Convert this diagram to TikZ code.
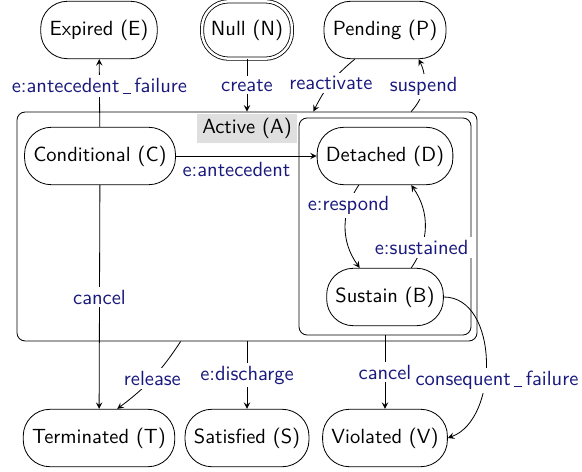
\documentclass[tikz,border=0pt]{standalone}
\definecolor{evtblue}{RGB}{25,25,125}
\newcommand\usc{\kern.18em\rule[-.5pt]{.37em}{.45pt}\kern.18em}
\tikzset{
  state/.style={draw, rectangle, rounded corners=13pt, minimum height=28pt, inner xsep=4.3pt},
  evt/.style={fill=white, text=evtblue, inner sep=1.5pt},
}
\begin{document}
\begin{tikzpicture}[x=0.4878pt, y=-0.4878pt, font=\sffamily, >=stealth]
  \useasboundingbox (0,0) rectangle (582,471);
  \node[draw, rounded corners=4pt, minimum width=224.4pt, minimum height=111.7pt] (A) at (247,226.5) {};
  \node[draw, rounded corners=4pt, minimum width=83.9pt, minimum height=105.9pt] (sub) at (385,226.5) {};
  \node[fill=gray!25, inner sep=2pt, minimum width=48.3pt] (Alabel) at (247,128.5) {Active (A)};

  \node[state] (E) at (99,30) {Expired (E)};
  \node[state, double, double distance=1.2pt] (N) at (247,30) {Null (N)};
  \node[state] (P) at (385,30) {Pending (P)};
  \node[state] (C) at (100,156) {Conditional (C)};
  \node[state] (D) at (385,156) {Detached (D)};
  \node[state] (B) at (385,297) {Sustain (B)};
  \node[state] (T) at (99,438) {Terminated (T)};
  \node[state] (S) at (247,438) {Satisfied (S)};
  \node[state] (V) at (385,438) {Violated (V)};

  \draw[->] (N) -- node[evt] {create} (A.north);
  \draw[->] (C) -- node[evt, pos=0.6] {e:antecedent\usc failure} (E);
  \draw[->] (P.224) to[bend right=12] node[evt] {reactivate} (A.60);
  \draw[->] (A.35) to[bend right=35] node[evt] {suspend} (P.319);
  \draw[->] (C) -- node[evt, below=1.5pt, pos=0.43] {e:antecedent} (D);
  \draw[->] (D.228) to[bend right=35] node[evt, near start] {e:respond} (B.131);
  \draw[->] (B.48) to[bend right=35] node[evt, near start] {e:sustained} (D.312);
  \draw[->] (C) -- node[evt] {cancel} (T);
  \draw[->] (A.240) to[bend left=10] node[evt] {release} (T.58);
  \draw[->] (A.south) -- node[evt] {e:discharge} (S);
  \draw[->] (sub.south) -- node[evt] {cancel} (V);
  \draw[->] (B.east) to[out=0, in=20] node[evt, pos=0.6, xshift=6pt] {consequent\usc failure} (V.east);
\end{tikzpicture}
\end{document}
